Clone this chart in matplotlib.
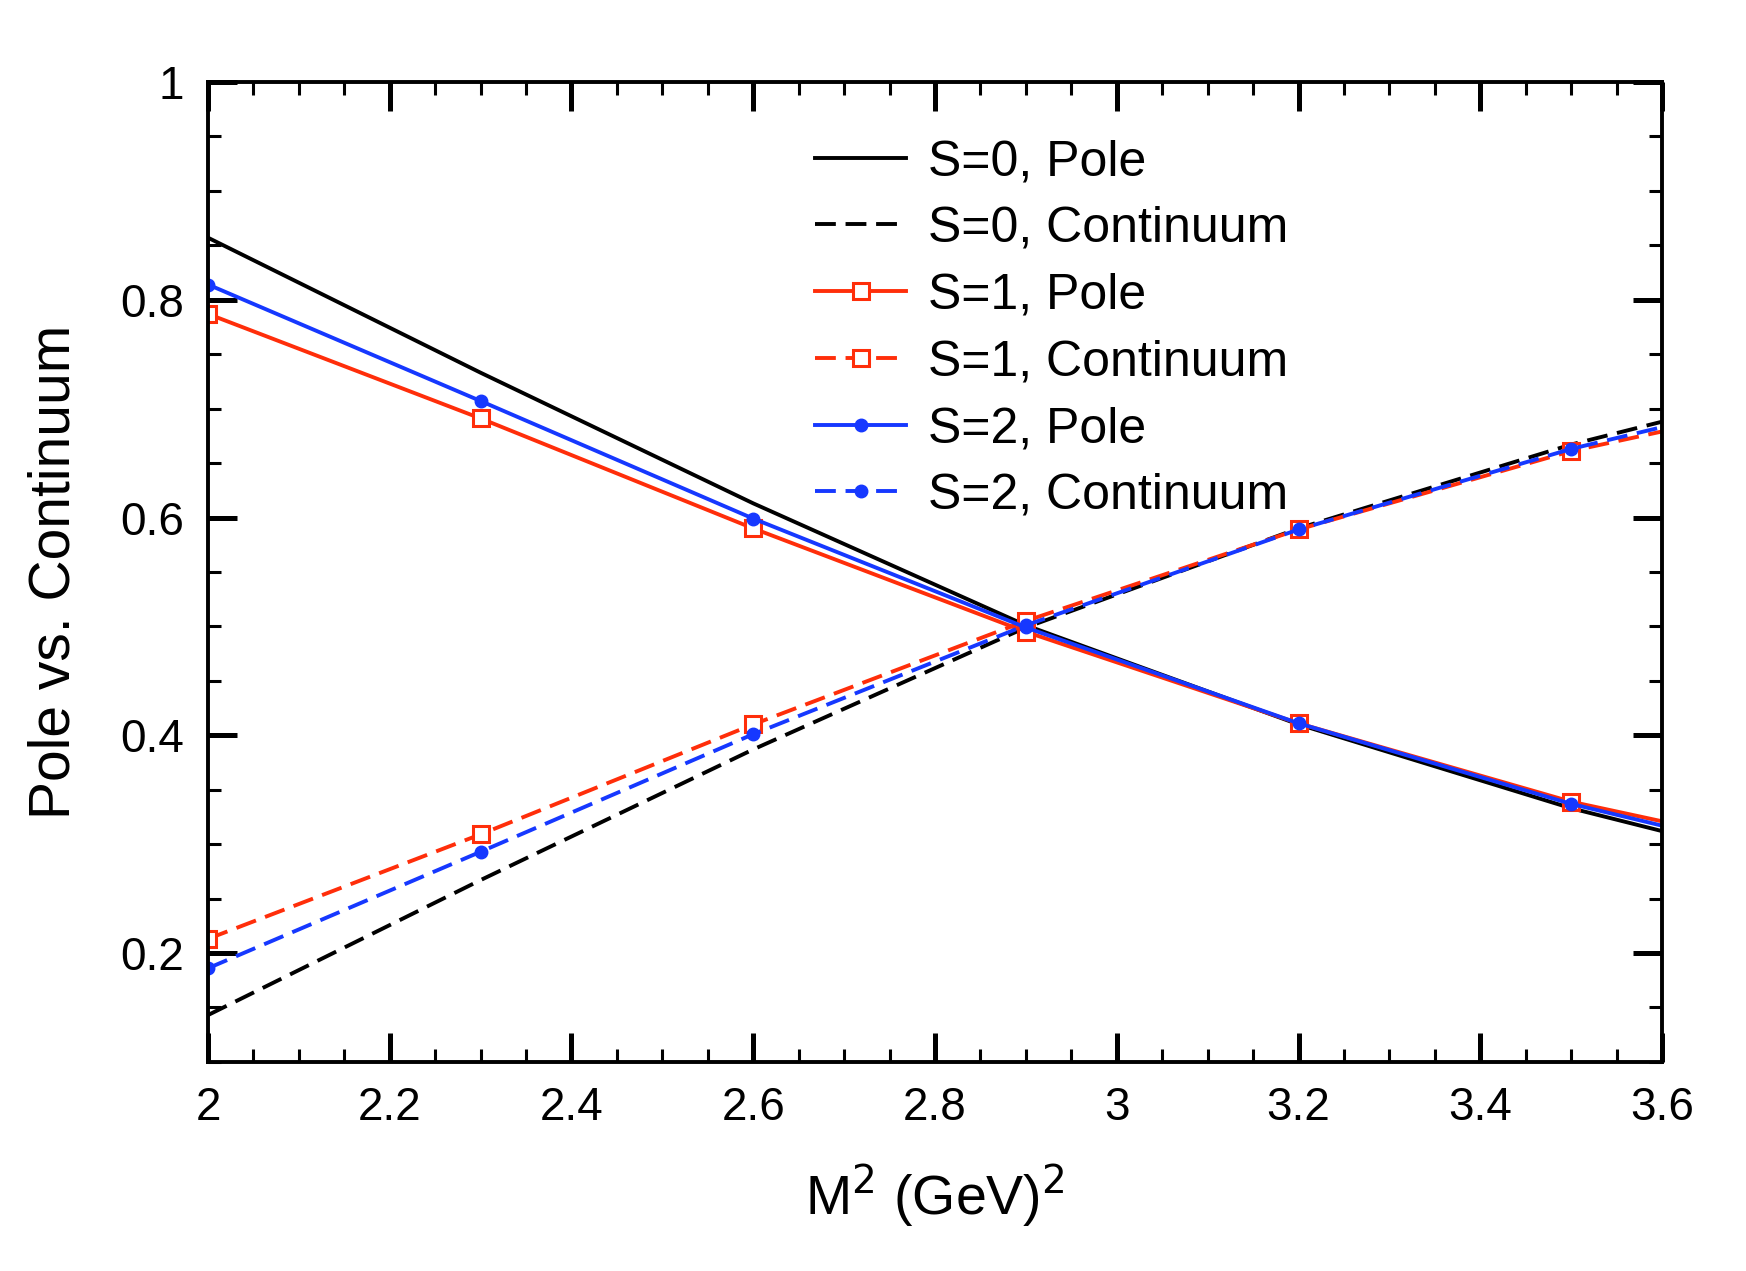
import matplotlib
matplotlib.use("Agg")
import matplotlib.pyplot as plt
from matplotlib.ticker import MultipleLocator, FuncFormatter

plt.rcParams['font.family'] = ['Liberation Sans', 'DejaVu Sans']
plt.rcParams['lines.scale_dashes'] = False

# Data (x beyond 3.6 is clipped by the axes)
m2 = [2.0, 2.3, 2.6, 2.9, 3.2, 3.5, 3.8]
s0_pole = [0.857, 0.733, 0.613, 0.501, 0.410, 0.333, 0.270]
s0_cont = [0.143, 0.267, 0.387, 0.499, 0.590, 0.667, 0.730]
s1_pole = [0.787, 0.691, 0.590, 0.495, 0.411, 0.339, 0.285]
s1_cont = [0.213, 0.309, 0.410, 0.505, 0.589, 0.661, 0.715]
s2_pole = [0.814, 0.707, 0.599, 0.499, 0.411, 0.337, 0.277]
s2_cont = [0.186, 0.293, 0.401, 0.501, 0.589, 0.663, 0.723]

labels = ["S=0, Pole", "S=0, Continuum", "S=1, Pole", "S=1, Continuum",
          "S=2, Pole", "S=2, Continuum"]

RED = '#ff2e0a'
BLUE = '#1638ff'
DASH = (15, 7)
LW = 2.8

fig = plt.figure(figsize=(17.46, 12.71), dpi=100)
ax = fig.add_axes([0.1191, 0.1645, 0.9519 - 0.1191, 0.9355 - 0.1645])

ax.plot(m2, s0_pole, color='black', lw=LW, label=labels[0])
ax.plot(m2, s0_cont, color='black', lw=LW, dashes=DASH, label=labels[1])
ax.plot(m2, s1_pole, color=RED, lw=LW, marker='s', ms=11, mfc='white',
        mec=RED, mew=2.2, label=labels[2])
ax.plot(m2, s1_cont, color=RED, lw=LW, dashes=DASH, marker='s', ms=11,
        mfc='white', mec=RED, mew=2.2, label=labels[3])
ax.plot(m2, s2_pole, color=BLUE, lw=LW, marker='o', ms=9, mfc=BLUE,
        mec=BLUE, label=labels[4])
ax.plot(m2, s2_cont, color=BLUE, lw=LW, dashes=DASH, marker='o', ms=9,
        mfc=BLUE, mec=BLUE, label=labels[5])

ax.set_xlim(2.0, 3.6)
ax.set_ylim(0.1, 1.0)
ax.xaxis.set_major_locator(MultipleLocator(0.2))
ax.xaxis.set_minor_locator(MultipleLocator(0.05))
ax.yaxis.set_major_locator(MultipleLocator(0.2))
ax.yaxis.set_minor_locator(MultipleLocator(0.05))

def fmt(v, pos):
    s = f"{v:.1f}"
    if s.endswith('.0'):
        s = s[:-2]
    return s

ax.xaxis.set_major_formatter(FuncFormatter(fmt))
ax.yaxis.set_major_formatter(FuncFormatter(fmt))

for sp in ax.spines.values():
    sp.set_linewidth(2.8)

ax.tick_params(which='both', direction='in', top=True, right=True)
ax.tick_params(which='major', length=21, width=3.6, labelsize=33, pad=17)
ax.tick_params(which='minor', length=9.5, width=2.2)

ax.set_xlabel(r"M$^{2}$ (GeV)$^{2}$", fontsize=40, labelpad=24)
ax.set_ylabel("Pole vs. Continuum", fontsize=41, labelpad=28)

leg = ax.legend(loc='upper left', bbox_to_anchor=(0.404, 0.962), frameon=False,
                fontsize=36, handlelength=1.82, handletextpad=0.44,
                labelspacing=0.415, borderaxespad=0)

fig.savefig("out.png", dpi=100)
